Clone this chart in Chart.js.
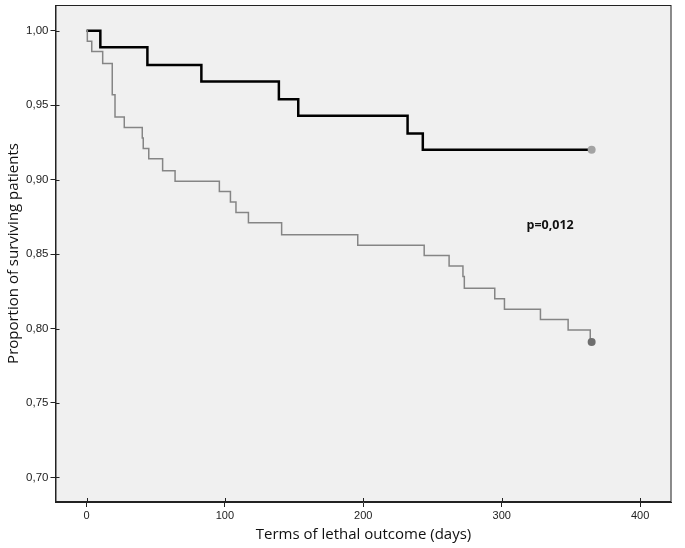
<!DOCTYPE html>
<html>
<head>
<meta charset="utf-8">
<script src="https://cdn.jsdelivr.net/npm/chart.js@4.4.0/dist/chart.umd.min.js"></script>
<style>
  html, body { margin: 0; padding: 0; background: #fff; }
</style>
</head>
<body>
<canvas id="kmChart" width="685" height="548"></canvas>
<script>
// === Dados (Kaplan-Meier) ===
const daysGroupA = [0, 10, 44, 83, 139, 153, 232, 243, 365];
const survGroupA = [1.000, 0.989, 0.977, 0.966, 0.954, 0.943, 0.931, 0.920, 0.920];

const daysGroupB = [0, 0.6, 3.8, 11.7, 18.6, 20.6, 27.3, 40.3, 41, 45, 55, 64, 96, 104, 108, 117,
  141, 196, 244, 262, 272, 273, 295, 302, 328, 348, 364, 365];
const survGroupB = [1.000, 0.993, 0.986, 0.978, 0.957, 0.942, 0.935, 0.928, 0.921, 0.914, 0.906, 0.899,
  0.892, 0.885, 0.878, 0.871, 0.863, 0.856, 0.849, 0.842, 0.835, 0.827, 0.820, 0.813, 0.806, 0.799, 0.791, 0.791];

const xTicks = [0, 100, 200, 300, 400];
const yTicks = [0.70, 0.75, 0.80, 0.85, 0.90, 0.95, 1.00];

const pLabel = 'p=0,012';
const pLabelAt = { x: 335, y: 0.8694 };

const AXIS = '#222';

// === Fundo, moldura, marcas internas e texto do p ===
const framePlugin = {
  id: 'frame',
  beforeDraw(chart) {
    const { ctx, chartArea: a } = chart;
    ctx.save();
    ctx.fillStyle = '#f0f0f0';
    ctx.fillRect(a.left, a.top, a.right - a.left, a.bottom - a.top);
    ctx.restore();
  },
  afterDraw(chart) {
    const { ctx, chartArea: a, scales } = chart;
    ctx.save();
    ctx.strokeStyle = AXIS;
    ctx.lineWidth = 1;
    ctx.strokeRect(a.left + 0.5, a.top + 0.5, a.right - a.left - 1, a.bottom - a.top - 1);

    ctx.beginPath();
    yTicks.forEach(v => {
      const py = Math.round(scales.y.getPixelForValue(v)) + 0.5;
      ctx.moveTo(a.left, py);
      ctx.lineTo(a.left + 4, py);
    });
    xTicks.forEach(v => {
      const px = Math.round(scales.x.getPixelForValue(v)) + 0.5;
      ctx.moveTo(px, a.bottom);
      ctx.lineTo(px, a.bottom - 4);
    });
    ctx.stroke();

    ctx.fillStyle = '#111';
    ctx.font = 'bold 12.5px "Open Sans"';
    ctx.textAlign = 'center';
    ctx.textBaseline = 'middle';
    ctx.fillText(pLabel, scales.x.getPixelForValue(pLabelAt.x), scales.y.getPixelForValue(pLabelAt.y));
    ctx.restore();
  }
};

const lastOnly = r => ctx => (ctx.dataIndex === ctx.dataset.data.length - 1 ? r : 0);

new Chart(document.getElementById('kmChart').getContext('2d'), {
  type: 'line',
  data: {
    datasets: [
      {
        label: 'B',
        data: daysGroupB.map((d, i) => ({ x: d, y: survGroupB[i] })),
        stepped: true,
        borderColor: '#858585',
        borderWidth: 1.5,
        fill: false,
        pointRadius: lastOnly(4),
        pointHoverRadius: 0,
        pointBorderWidth: 0,
        pointBackgroundColor: '#6e6e6e'
      },
      {
        label: 'A',
        data: daysGroupA.map((d, i) => ({ x: d, y: survGroupA[i] })),
        stepped: true,
        borderColor: '#000',
        borderWidth: 2.5,
        fill: false,
        pointRadius: lastOnly(4),
        pointHoverRadius: 0,
        pointBorderWidth: 0,
        pointBackgroundColor: '#a3a3a3'
      }
    ]
  },
  options: {
    responsive: false,
    animation: false,
    layout: { autoPadding: false, padding: { top: 5, right: 13.5, left: 0, bottom: 0 } },
    plugins: {
      legend: { display: false },
      tooltip: { enabled: false }
    },
    scales: {
      x: {
        type: 'linear',
        min: -22.4,
        max: 422.7,
        afterBuildTicks: s => { s.ticks = xTicks.map(v => ({ value: v })); },
        afterFit: s => { s.height = 46; s.paddingLeft = 0; s.paddingRight = 0; },
        grid: { drawOnChartArea: false, tickLength: 5, color: AXIS },
        border: { color: AXIS },
        ticks: { color: '#222', font: { family: 'Liberation Sans', size: 11 }, padding: 2, maxRotation: 0 },
        title: {
          display: true,
          text: 'Terms of lethal outcome (days)',
          color: '#111',
          font: { family: 'Open Sans', size: 15 },
          padding: { top: 0, bottom: 4 }
        }
      },
      y: {
        type: 'linear',
        min: 0.6835,
        max: 1.0173,
        afterBuildTicks: s => { s.ticks = yTicks.map(v => ({ value: v })); },
        afterFit: s => { s.width = 55.5; s.paddingTop = 0; s.paddingBottom = 0; },
        grid: { drawOnChartArea: false, tickLength: 5, color: AXIS },
        border: { color: AXIS },
        ticks: {
          color: '#222',
          font: { family: 'Liberation Sans', size: 11.5 },
          padding: 2,
          callback: v => v.toFixed(2).replace('.', ',')
        },
        title: {
          display: true,
          text: 'Proportion of surviving patients',
          color: '#111',
          font: { family: 'Open Sans', size: 15 },
          padding: { top: 5, bottom: 0 }
        }
      }
    }
  },
  plugins: [framePlugin]
});
</script>
</body>
</html>
